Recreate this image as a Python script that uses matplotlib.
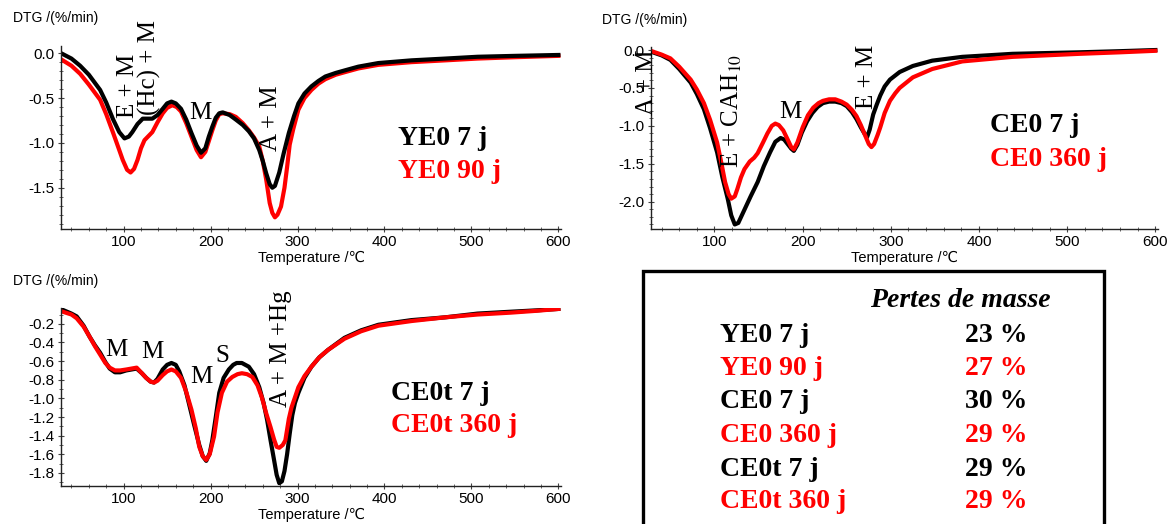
"""DTG curves (YE0 / CE0 / CE0t) at different ages, with mass-loss table."""
import matplotlib
matplotlib.use("Agg")
import matplotlib.pyplot as plt
from matplotlib.ticker import MultipleLocator, FormatStrFormatter
from matplotlib.patches import Rectangle

plt.rcParams['axes.unicode_minus'] = False
plt.rcParams['mathtext.fontset'] = 'stix'

SANS = ['Liberation Sans', 'DejaVu Sans']
SERIF = ['Liberation Serif', 'DejaVu Serif']
RED = '#FF0000'

# ---- panel 1 : YE0 ----
ye0_7_T = [30, 40, 50, 60, 73, 80, 88, 95, 101, 106, 110, 116, 122, 128, 133, 139, 145, 150, 155, 160,
           166, 172, 178, 184, 189, 194, 198, 202, 206, 210, 214, 222, 229, 237, 244, 250, 256, 260, 264,
           268, 271, 274, 279, 284, 290, 296, 301, 308, 316, 324, 332, 344, 355, 370, 393, 431, 470, 507,
           550, 600]
ye0_7_y = [-0.01, -0.06, -0.14, -0.24, -0.41, -0.55, -0.74, -0.88, -0.95, -0.93, -0.88, -0.79, -0.73,
           -0.73, -0.73, -0.69, -0.62, -0.56, -0.54, -0.56, -0.62, -0.74, -0.89, -1.03, -1.11, -1.06,
           -0.93, -0.82, -0.72, -0.67, -0.66, -0.69, -0.74, -0.80, -0.87, -0.95, -1.08, -1.20, -1.34,
           -1.46, -1.50, -1.48, -1.33, -1.12, -0.89, -0.70, -0.56, -0.45, -0.37, -0.31, -0.26, -0.22,
           -0.19, -0.15, -0.11, -0.08, -0.06, -0.04, -0.03, -0.02]
ye0_90_T = [30, 40, 50, 60, 73, 80, 88, 95, 99, 104, 108, 112, 116, 120, 124, 128, 133, 139, 145, 150,
            156, 161, 166, 172, 178, 184, 189, 194, 198, 202, 206, 210, 214, 222, 229, 237, 244, 250,
            256, 260, 264, 268, 271, 274, 277, 281, 285, 288, 291, 295, 301, 308, 316, 324, 332, 344,
            355, 370, 393, 431, 470, 507, 550, 600]
ye0_90_y = [-0.08, -0.14, -0.23, -0.35, -0.52, -0.68, -0.89, -1.08, -1.19, -1.30, -1.33, -1.29, -1.19,
            -1.06, -0.97, -0.93, -0.88, -0.77, -0.67, -0.61, -0.58, -0.60, -0.65, -0.78, -0.93, -1.08,
            -1.16, -1.10, -0.98, -0.86, -0.75, -0.68, -0.67, -0.68, -0.71, -0.78, -0.86, -0.94, -1.04,
            -1.20, -1.41, -1.67, -1.78, -1.83, -1.80, -1.71, -1.50, -1.27, -1.02, -0.85, -0.63, -0.50,
            -0.41, -0.34, -0.29, -0.24, -0.21, -0.17, -0.13, -0.10, -0.08, -0.06, -0.045, -0.03]

# ---- panel 2 : CE0 ----
ce0_7_T = [30, 40, 50, 60, 73, 80, 88, 95, 103, 109, 115, 119, 123, 127, 133, 141, 149, 156, 163, 169,
           175, 179, 183, 187, 190, 194, 199, 205, 211, 217, 223, 230, 237, 244, 250, 256, 261, 266,
           270, 273, 276, 280, 284, 288, 293, 299, 310, 325, 347, 381, 438, 514, 560, 600]
ce0_7_y = [-0.03, -0.07, -0.13, -0.25, -0.43, -0.58, -0.78, -1.03, -1.35, -1.68, -1.96, -2.18, -2.30,
           -2.28, -2.13, -1.93, -1.74, -1.53, -1.35, -1.21, -1.16, -1.18, -1.24, -1.30, -1.33, -1.25,
           -1.09, -0.94, -0.83, -0.75, -0.70, -0.68, -0.68, -0.70, -0.74, -0.82, -0.91, -1.02, -1.10,
           -1.15, -1.05, -0.85, -0.72, -0.60, -0.48, -0.39, -0.29, -0.21, -0.14, -0.09, -0.05, -0.03,
           -0.015, 0.0]
ce0_360_T = [30, 40, 50, 60, 73, 80, 88, 95, 103, 108, 112, 116, 119, 123, 126, 130, 134, 140, 145, 149,
             155, 160, 165, 169, 173, 178, 183, 187, 190, 194, 200, 206, 212, 218, 223, 230, 237, 244,
             250, 256, 261, 266, 271, 275, 278, 281, 285, 288, 293, 299, 305, 310, 325, 347, 381, 438,
             514, 560, 600]
ce0_360_y = [-0.02, -0.06, -0.11, -0.22, -0.39, -0.52, -0.70, -0.92, -1.22, -1.50, -1.74, -1.90, -1.96,
             -1.93, -1.83, -1.68, -1.57, -1.47, -1.42, -1.36, -1.22, -1.10, -1.00, -0.97, -0.99, -1.06,
             -1.18, -1.28, -1.31, -1.22, -1.02, -0.86, -0.76, -0.70, -0.67, -0.65, -0.65, -0.68, -0.72,
             -0.79, -0.87, -0.99, -1.13, -1.24, -1.28, -1.24, -1.12, -1.02, -0.83, -0.67, -0.57, -0.50,
             -0.36, -0.25, -0.15, -0.09, -0.05, -0.03, -0.01]

# ---- panel 3 : CE0t ----
ce0t_7_T = [30, 40, 46, 54, 61, 67, 73, 79, 84, 90, 96, 103, 109, 115, 121, 126, 131, 135, 139, 145,
            150, 155, 160, 164, 170, 175, 181, 187, 191, 195, 199, 202, 206, 210, 215, 221, 226, 230,
            236, 244, 250, 256, 261, 265, 269, 273, 276, 279, 282, 285, 288, 291, 294, 297, 301, 308,
            316, 325, 335, 354, 373, 393, 431, 470, 507, 545, 575, 600]
ce0t_7_y = [-0.05, -0.09, -0.12, -0.22, -0.34, -0.43, -0.51, -0.61, -0.68, -0.72, -0.72, -0.70, -0.69,
            -0.68, -0.73, -0.78, -0.82, -0.83, -0.79, -0.69, -0.64, -0.62, -0.64, -0.71, -0.86, -1.05,
            -1.28, -1.50, -1.62, -1.67, -1.59, -1.45, -1.20, -0.94, -0.78, -0.69, -0.64, -0.62, -0.62,
            -0.66, -0.74, -0.88, -1.05, -1.23, -1.45, -1.66, -1.82, -1.91, -1.89, -1.78, -1.60, -1.38,
            -1.18, -1.05, -0.94, -0.78, -0.66, -0.56, -0.48, -0.35, -0.27, -0.21, -0.16, -0.13, -0.09,
            -0.07, -0.055, -0.04]
ce0t_360_T = [30, 40, 46, 54, 61, 67, 73, 79, 84, 90, 96, 103, 109, 115, 121, 126, 131, 135, 139, 145,
              150, 155, 160, 166, 172, 178, 183, 187, 191, 195, 199, 204, 208, 213, 219, 225, 231, 236,
              242, 248, 254, 259, 264, 269, 273, 276, 279, 283, 286, 290, 293, 297, 301, 308, 316, 325,
              335, 354, 373, 393, 431, 470, 507, 545, 575, 600]
ce0t_360_y = [-0.07, -0.10, -0.14, -0.23, -0.34, -0.44, -0.53, -0.62, -0.67, -0.70, -0.70, -0.69, -0.68,
              -0.67, -0.73, -0.78, -0.82, -0.83, -0.81, -0.75, -0.71, -0.69, -0.71, -0.78, -0.93, -1.12,
              -1.32, -1.52, -1.62, -1.66, -1.60, -1.41, -1.15, -0.94, -0.82, -0.77, -0.74, -0.73, -0.74,
              -0.77, -0.86, -0.99, -1.16, -1.31, -1.44, -1.52, -1.53, -1.50, -1.45, -1.22, -1.10, -0.99,
              -0.88, -0.76, -0.66, -0.56, -0.48, -0.36, -0.28, -0.22, -0.17, -0.13, -0.10, -0.08, -0.06,
              -0.04]

# mass-loss table
table_samples = ["YE0 7 j", "YE0 90 j", "CE0 7 j", "CE0 360 j", "CE0t 7 j", "CE0t 360 j"]
table_losses = ["23 %", "27 %", "30 %", "29 %", "29 %", "29 %"]
table_colors = ['black', RED, 'black', RED, 'black', RED]

W, H = 1176, 524
fig = plt.figure(figsize=(W / 100, H / 100), dpi=100)


def px_axes(l, t, r, b):
    return fig.add_axes([l / W, 1 - b / H, (r - l) / W, (b - t) / H])


def style(ax, ylim, ymaj, ymin):
    ax.set_xlim(28, 603)
    ax.set_ylim(*ylim)
    ax.xaxis.set_major_locator(MultipleLocator(100))
    ax.xaxis.set_minor_locator(MultipleLocator(20))
    ax.yaxis.set_major_locator(MultipleLocator(ymaj))
    ax.yaxis.set_minor_locator(MultipleLocator(ymin))
    ax.yaxis.set_major_formatter(FormatStrFormatter('%.1f'))
    for sp in ("top", "right"):
        ax.spines[sp].set_visible(False)
    for sp in ("left", "bottom"):
        ax.spines[sp].set_color('#222222'); ax.spines[sp].set_linewidth(1.0)
    ax.tick_params(which='major', direction='inout', length=5, width=0.8, labelsize=11, pad=2,
                   color='#444444')
    ax.tick_params(which='minor', direction='inout', length=3, width=0.7, color='#666666')
    for lab in ax.get_xticklabels() + ax.get_yticklabels():
        lab.set_fontfamily(SANS)
    ax.set_xlabel("Temperature /\u2103", fontsize=10.5, family=SANS, labelpad=1)
    ax.patch.set_alpha(0)


def vtext(ax, x, y, s, size=18):
    ax.text(x, y, s, rotation=90, ha='center', va='center', fontsize=size, family=SERIF,
            clip_on=False)


def label_pair(ax, x, y1, y2, s1, s2):
    ax.text(x, y1, s1, ha='left', va='baseline', fontsize=20, family=SERIF, weight='bold')
    ax.text(x, y2, s2, ha='left', va='baseline', fontsize=20, family=SERIF, weight='bold',
            color=RED)


LW = 3.0

# panel 1
ax1 = px_axes(61, 46, 561, 229)
ax1.plot(ye0_90_T, ye0_90_y, color=RED, lw=LW, solid_joinstyle='round')
ax1.plot(ye0_7_T, ye0_7_y, color='black', lw=LW, solid_joinstyle='round')
style(ax1, (-1.96, 0.08), 0.5, 0.1)
vtext(ax1, 105, -0.36, "E + M")
vtext(ax1, 130, -0.16, "(Hc) + M")
ax1.text(188, -0.67, "M", ha='center', va='center', fontsize=18, family=SERIF)
vtext(ax1, 270, -0.72, "A + M")
label_pair(ax1, 416, -1.02, -1.39, "YE0 7 j", "YE0 90 j")

# panel 2
ax2 = px_axes(651, 47, 1158, 229)
ax2.plot(ce0_7_T, ce0_7_y, color='black', lw=LW, solid_joinstyle='round')
ax2.plot(ce0_360_T, ce0_360_y, color=RED, lw=LW, solid_joinstyle='round')
style(ax2, (-2.36, 0.04), 0.5, 0.1)
vtext(ax2, 24, -0.42, "A + M")
vtext(ax2, 120, -0.81, r"E + CAH$_{10}$")
ax2.text(186, -0.82, "M", ha='center', va='center', fontsize=18, family=SERIF)
vtext(ax2, 273, -0.35, "E + M")
label_pair(ax2, 412, -1.085, -1.53, "CE0 7 j", "CE0 360 j")

# panel 3
ax3 = px_axes(61, 308, 561, 486)
ax3.plot(ce0t_7_T, ce0t_7_y, color='black', lw=LW, solid_joinstyle='round')
ax3.plot(ce0t_360_T, ce0t_360_y, color=RED, lw=LW, solid_joinstyle='round')
style(ax3, (-1.94, -0.03), 0.2, 0.1)
for (x, y, s) in [(92, -0.48, "M"), (133, -0.50, "M"), (189, -0.77, "M"), (213, -0.55, "S")]:
    ax3.text(x, y, s, ha='center', va='center', fontsize=18, family=SERIF)
vtext(ax3, 281, -0.47, "A + M +Hg")
label_pair(ax3, 408, -1.017, -1.361, "CE0t 7 j", "CE0t 360 j")

# y-axis titles
for (x, y) in [(13, 18), (602, 20), (13, 281)]:
    fig.text(x / W, 1 - y / H, "DTG /(%/min)", ha='left', va='center', fontsize=10, family=SANS)

# mass-loss box
fig.add_artist(Rectangle((643 / W, -0.05), (1104 - 643) / W, 0.05 + 1 - 271 / H,
                         transform=fig.transFigure, fill=False, lw=2.4, edgecolor='black'))
fig.text(960 / W, 1 - 307 / H, "Pertes de masse", ha='center', va='baseline', fontsize=20,
         family=SERIF, weight='bold', style='italic')
row_base = [342, 375, 408, 442, 476, 508]
for s, v, c, y in zip(table_samples, table_losses, table_colors, row_base):
    fig.text(720 / W, 1 - y / H, s, ha='left', va='baseline', fontsize=20, family=SERIF,
             weight='bold', color=c)
    fig.text(965 / W, 1 - y / H, v, ha='left', va='baseline', fontsize=20, family=SERIF,
             weight='bold', color=c)

fig.savefig("out.png", dpi=100)
